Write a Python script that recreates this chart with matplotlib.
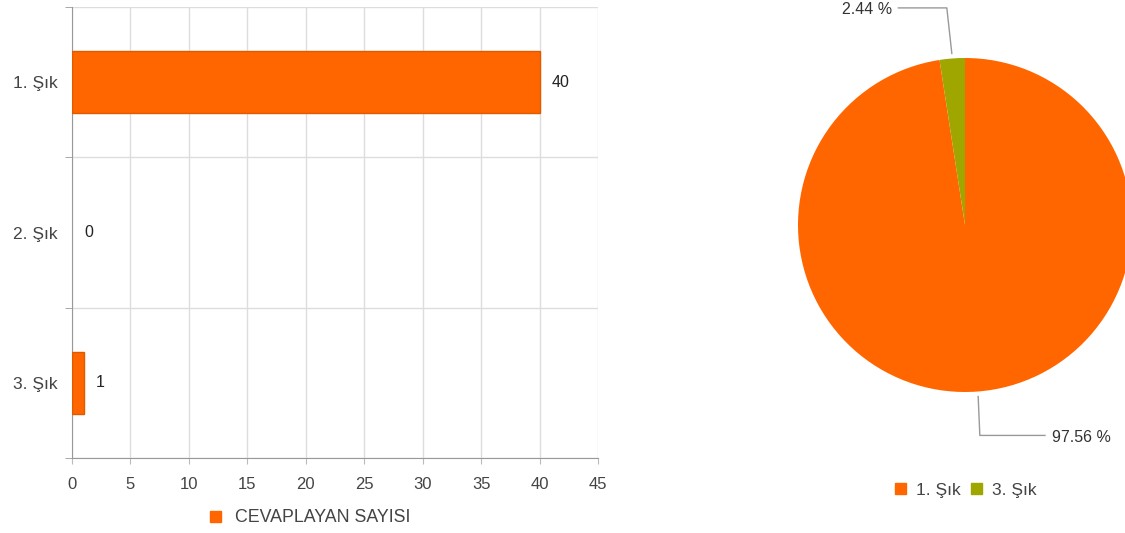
import numpy as np
import matplotlib
matplotlib.use("Agg")
import matplotlib.pyplot as plt
from matplotlib.patches import Patch

plt.rcParams['font.family'] = ['Liberation Sans', 'DejaVu Sans']

categories = ["1. Şık", "2. Şık", "3. Şık"]
counts = [40, 0, 1]
series_name = "CEVAPLAYAN SAYISI"
x_ticks = [0, 5, 10, 15, 20, 25, 30, 35, 40, 45]

pie_labels = ["1. Şık", "3. Şık"]
pie_values = [40, 1]

ORANGE = "#FF6600"
OLIVE = "#9FA600"
TEXT = "#444444"
GRID = "#DDDDDD"

fig = plt.figure(figsize=(11.25, 5.33), dpi=100)

# ---------------- Bar chart ----------------
ax = fig.add_axes([72/1125, 1-458/533, (598-72)/1125, (458-7)/533])
y = np.arange(len(categories))
edges = ["#E05A00" if v > 0 else "none" for v in counts]
ax.barh(y, counts, height=0.41, color=ORANGE, edgecolor=edges, linewidth=1, zorder=3)
ax.set_xlim(0, 45)
ax.set_ylim(len(categories)-0.5, -0.5)
ax.set_xticks(x_ticks)
ax.set_xticklabels([str(t) for t in x_ticks], fontsize=12, color=TEXT)
ax.set_yticks(y)
ax.set_yticklabels(categories, fontsize=12.5, color=TEXT)
ax.set_yticks(np.arange(-0.5, len(categories)), minor=True)
ax.tick_params(axis='y', which='major', length=0, pad=10)
ax.tick_params(axis='y', which='minor', length=5, color="#999999")
ax.tick_params(axis='x', length=4, color="#BBBBBB", pad=10)
ax.grid(axis='x', color=GRID, linewidth=1, zorder=0)
ax.grid(axis='y', which='minor', color=GRID, linewidth=1, zorder=0)
for s in ['top', 'right']:
    ax.spines[s].set_visible(False)
ax.spines['left'].set_color("#999999")
ax.spines['bottom'].set_color("#999999")
for yi, v in zip(y, counts):
    ax.annotate(str(v), (v, yi), xytext=(12, 0), textcoords='offset pixels',
                va='center', ha='left', fontsize=11.5, color="#222222")
fig.legend(handles=[Patch(color=ORANGE, label=series_name)],
           loc='center', bbox_to_anchor=(310/1125, 1-518/533), frameon=False,
           fontsize=12.8, handlelength=0.6, handleheight=0.6, handletextpad=0.8,
           labelcolor=TEXT)

# ---------------- Pie chart ----------------
cx, cy, r = 965, 225, 167
pax = fig.add_axes([(cx-r)/1125, 1-(cy+r)/533, 2*r/1125, 2*r/533])
wedges, _ = pax.pie(pie_values, colors=[ORANGE, OLIVE], startangle=90,
                    counterclock=False, radius=1, wedgeprops=dict(linewidth=0))
pax.set_xlim(-1, 1)
pax.set_ylim(-1, 1)
pax.set_aspect('equal')
pax.axis('off')
total = sum(pie_values)
for w, v in zip(wedges, pie_values):
    ang = np.deg2rad((w.theta1 + w.theta2) / 2)
    pct = f"{100*v/total:.2f} %"
    x0, y0 = 1.03*np.cos(ang), 1.03*np.sin(ang)
    if np.sin(ang) > 0:
        x1, y1 = x0 - 0.03, 1.30
        x2 = x1 - 0.29
        pax.plot([x0, x1, x2], [y0, y1, y1], color="#999999", lw=1, clip_on=False)
        pax.text(x2 - 0.04, y1 - 0.01, pct, ha='right', va='center', fontsize=11.5, color="#333333")
    else:
        x1, y1 = x0 + 0.01, -1.26
        x2 = x1 + 0.39
        pax.plot([x0, x1, x2], [y0, y1, y1], color="#999999", lw=1, clip_on=False)
        pax.text(x2 + 0.04, y1 - 0.01, pct, ha='left', va='center', fontsize=11.5, color="#333333")

fig.legend(handles=[Patch(color=c, label=l) for c, l in zip([ORANGE, OLIVE], pie_labels)],
           loc='center', bbox_to_anchor=(966/1125, 1-490/533), frameon=False, ncol=2,
           fontsize=12.5, handlelength=0.6, handleheight=0.6, handletextpad=0.6,
           columnspacing=0.6, labelcolor=TEXT)

fig.savefig("out.png", dpi=100)
